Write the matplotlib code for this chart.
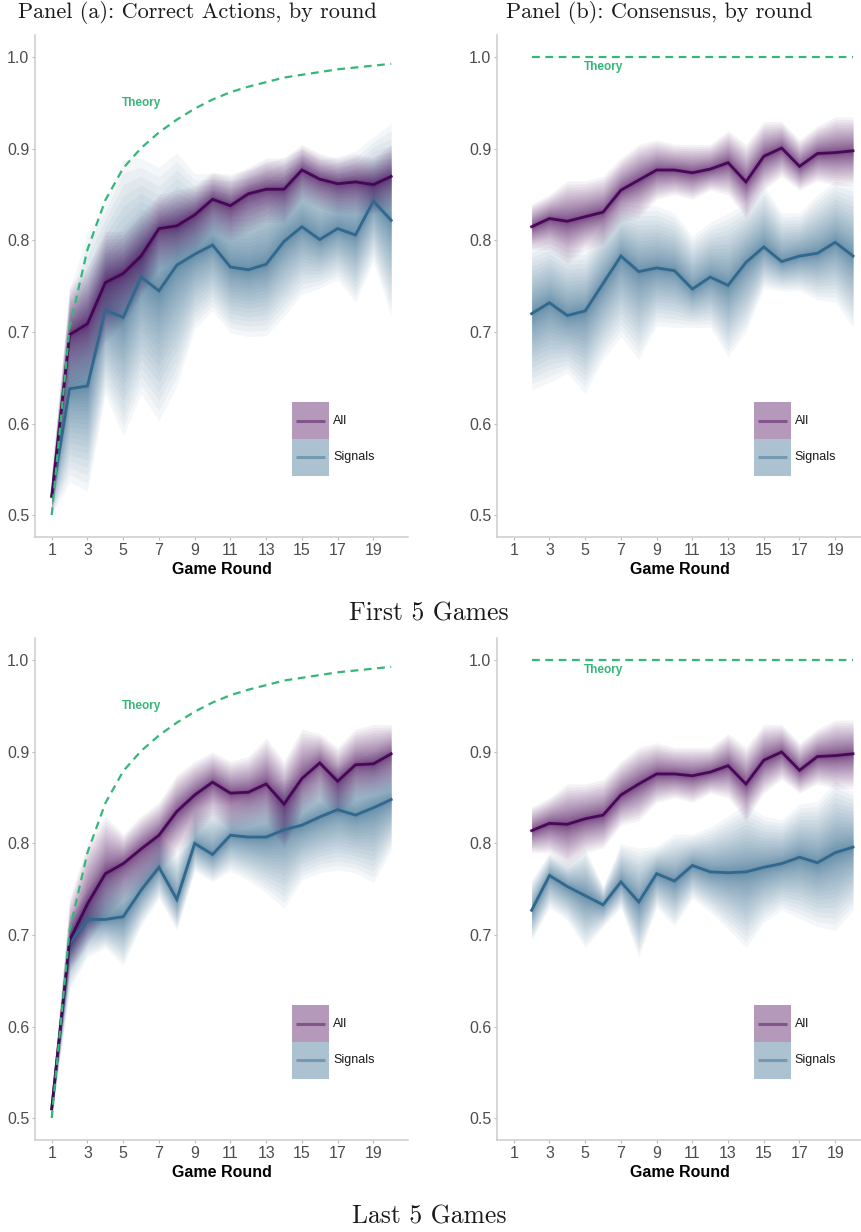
import numpy as np
import matplotlib
matplotlib.use("Agg")
import matplotlib.pyplot as plt
from matplotlib.patches import Rectangle

plt.rcParams['font.family'] = ['Liberation Sans', 'DejaVu Sans']

# rounds shown on the x axis
rounds_a = list(range(1, 21))
rounds_b = list(range(2, 21))
xticks = [1, 3, 5, 7, 9, 11, 13, 15, 17, 19]
yticks = [0.5, 0.6, 0.7, 0.8, 0.9, 1.0]

# theoretical benchmarks
theory_a = [0.5, 0.705, 0.79, 0.844, 0.879, 0.901, 0.918, 0.932, 0.944, 0.954,
            0.962, 0.968, 0.973, 0.978, 0.981, 0.984, 0.987, 0.989, 0.991, 0.993]
theory_b = [1.0] * 19

# --- first 5 games, correct actions ---
first_a_all = [0.521, 0.697, 0.709, 0.754, 0.764, 0.783, 0.813, 0.816, 0.828, 0.845,
               0.838, 0.851, 0.856, 0.856, 0.877, 0.867, 0.862, 0.864, 0.861, 0.870]
first_a_all_lo = [0.50, 0.64, 0.65, 0.69, 0.71, 0.74, 0.77, 0.78, 0.79, 0.81,
                  0.80, 0.81, 0.82, 0.82, 0.845, 0.835, 0.83, 0.83, 0.83, 0.835]
first_a_all_hi = [0.55, 0.75, 0.77, 0.81, 0.81, 0.83, 0.85, 0.855, 0.86, 0.875,
                  0.87, 0.88, 0.89, 0.89, 0.905, 0.895, 0.89, 0.895, 0.89, 0.905]
first_a_sig = [0.52, 0.638, 0.641, 0.724, 0.716, 0.760, 0.745, 0.773, 0.785, 0.795,
               0.771, 0.768, 0.774, 0.799, 0.815, 0.801, 0.813, 0.806, 0.843, 0.822]
first_a_sig_lo = [0.50, 0.536, 0.526, 0.632, 0.586, 0.632, 0.603, 0.641, 0.703, 0.723,
                  0.699, 0.695, 0.696, 0.717, 0.741, 0.748, 0.757, 0.733, 0.777, 0.717]
first_a_sig_hi = [0.54, 0.746, 0.808, 0.841, 0.888, 0.89, 0.88, 0.896, 0.873, 0.873,
                  0.873, 0.877, 0.884, 0.891, 0.90, 0.888, 0.891, 0.898, 0.913, 0.928]

# --- first 5 games, consensus ---
first_b_all = [0.815, 0.824, 0.821, 0.826, 0.831, 0.855, 0.866, 0.877, 0.877, 0.874,
               0.878, 0.885, 0.864, 0.892, 0.901, 0.881, 0.895, 0.896, 0.898]
first_b_all_lo = [0.79, 0.79, 0.775, 0.79, 0.795, 0.82, 0.825, 0.845, 0.85, 0.845,
                  0.855, 0.85, 0.825, 0.855, 0.87, 0.855, 0.865, 0.86, 0.86]
first_b_all_hi = [0.84, 0.85, 0.865, 0.865, 0.87, 0.89, 0.905, 0.91, 0.905, 0.905,
                  0.905, 0.92, 0.905, 0.93, 0.93, 0.91, 0.925, 0.935, 0.935]
first_b_sig = [0.720, 0.732, 0.718, 0.723, 0.753, 0.783, 0.766, 0.770, 0.767, 0.747,
               0.760, 0.751, 0.776, 0.793, 0.777, 0.783, 0.786, 0.798, 0.783]
first_b_sig_lo = [0.637, 0.645, 0.655, 0.633, 0.67, 0.695, 0.67, 0.707, 0.705, 0.705,
                  0.705, 0.673, 0.70, 0.748, 0.745, 0.745, 0.735, 0.733, 0.705]
first_b_sig_hi = [0.793, 0.80, 0.79, 0.79, 0.82, 0.84, 0.838, 0.838, 0.83, 0.805,
                  0.82, 0.83, 0.84, 0.86, 0.83, 0.83, 0.85, 0.865, 0.86]

# --- last 5 games, correct actions ---
last_a_all = [0.51, 0.694, 0.734, 0.767, 0.778, 0.794, 0.809, 0.835, 0.853, 0.867,
              0.855, 0.856, 0.865, 0.843, 0.871, 0.888, 0.868, 0.886, 0.887, 0.898]
last_a_all_lo = [0.50, 0.66, 0.69, 0.72, 0.74, 0.75, 0.77, 0.79, 0.81, 0.83,
                 0.815, 0.82, 0.825, 0.795, 0.835, 0.85, 0.83, 0.85, 0.855, 0.86]
last_a_all_hi = [0.53, 0.74, 0.80, 0.83, 0.81, 0.83, 0.845, 0.875, 0.89, 0.90,
                 0.89, 0.895, 0.915, 0.89, 0.925, 0.92, 0.905, 0.925, 0.93, 0.93]
last_a_sig = [0.51, 0.691, 0.717, 0.717, 0.72, 0.749, 0.774, 0.739, 0.80, 0.788,
              0.809, 0.807, 0.807, 0.815, 0.82, 0.829, 0.837, 0.831, 0.839, 0.848]
last_a_sig_lo = [0.50, 0.64, 0.676, 0.686, 0.667, 0.71, 0.74, 0.705, 0.77, 0.758,
                 0.77, 0.76, 0.746, 0.729, 0.76, 0.768, 0.771, 0.768, 0.757, 0.793]
last_a_sig_hi = [0.53, 0.72, 0.75, 0.78, 0.78, 0.79, 0.81, 0.79, 0.835, 0.84,
                 0.84, 0.85, 0.86, 0.87, 0.87, 0.88, 0.885, 0.89, 0.90, 0.90]

# --- last 5 games, consensus ---
last_b_all = [0.814, 0.822, 0.821, 0.827, 0.831, 0.853, 0.865, 0.876, 0.876, 0.874,
              0.878, 0.885, 0.865, 0.891, 0.900, 0.880, 0.895, 0.896, 0.898]
last_b_all_lo = [0.79, 0.79, 0.775, 0.79, 0.795, 0.82, 0.825, 0.845, 0.85, 0.845,
                 0.855, 0.85, 0.825, 0.855, 0.87, 0.855, 0.865, 0.86, 0.86]
last_b_all_hi = [0.84, 0.85, 0.865, 0.865, 0.87, 0.89, 0.905, 0.91, 0.905, 0.905,
                 0.905, 0.92, 0.905, 0.93, 0.93, 0.91, 0.925, 0.935, 0.935]
last_b_sig = [0.727, 0.765, 0.753, 0.743, 0.733, 0.758, 0.736, 0.767, 0.759, 0.776,
              0.769, 0.768, 0.769, 0.774, 0.778, 0.785, 0.779, 0.79, 0.796]
last_b_sig_lo = [0.694, 0.73, 0.716, 0.686, 0.709, 0.73, 0.676, 0.73, 0.71, 0.74,
                 0.725, 0.706, 0.686, 0.714, 0.727, 0.718, 0.709, 0.705, 0.727]
last_b_sig_hi = [0.76, 0.79, 0.78, 0.795, 0.753, 0.80, 0.795, 0.797, 0.81, 0.81,
                 0.818, 0.83, 0.843, 0.83, 0.826, 0.843, 0.846, 0.868, 0.857]

C_ALL = '#440154'
C_SIG = '#31688e'
C_THEORY = '#35b779'
W, H = 862, 1232


def px_axes(fig, left, top, right, bottom):
    return fig.add_axes([left / W, 1 - bottom / H, (right - left) / W, (bottom - top) / H])


def fan(ax, x, mid, lo, hi, color, n=26, alpha=0.05):
    # stacked ribbons, thin ones near the mean so the middle stays darkest
    mid, lo, hi = np.asarray(mid), np.asarray(lo), np.asarray(hi)
    for k in range(1, n + 1):
        f = (k / n) ** 2.1
        ax.fill_between(x, mid - f * (mid - lo), mid + f * (hi - mid),
                        color=color, alpha=alpha, lw=0)


def legend_box(ax):
    x0, x1 = 14.45, 16.52
    ys = [(0.583, 0.623, C_ALL, 'All'), (0.543, 0.583, C_SIG, 'Signals')]
    for y0, y1, c, lab in ys:
        ax.add_patch(Rectangle((x0, y0), x1 - x0, y1 - y0, facecolor=c, alpha=0.4,
                               lw=0, zorder=5))
        ym = (y0 + y1) / 2
        ax.plot([x0 + 0.22, x1 - 0.22], [ym, ym], color=c, alpha=0.45, lw=2.2,
                solid_capstyle='butt', zorder=6)
        ax.text(x1 + 0.22, ym, lab, fontsize=9, color='#1a1a1a', va='center',
                ha='left', zorder=6)


def draw_panel(ax, x, theory, all_, all_lo, all_hi, sig, sig_lo, sig_hi,
               xmax, theory_xy):
    fan(ax, x, sig, sig_lo, sig_hi, C_SIG)
    fan(ax, x, all_, all_lo, all_hi, C_ALL)
    ax.plot(x, sig, color=C_SIG, lw=2.0, solid_joinstyle='miter')
    ax.plot(x, all_, color=C_ALL, lw=2.0, alpha=0.9, solid_joinstyle='miter')
    ax.plot(x, theory, color=C_THEORY, lw=1.6, dashes=(3.5, 2.5))
    ax.text(theory_xy[0], theory_xy[1], 'Theory', color=C_THEORY, fontsize=8.5,
            fontweight='bold', ha='center', va='center')
    legend_box(ax)

    ax.set_xlim(0.065, xmax)
    ax.set_ylim(0.476, 1.0245)
    ax.set_xticks(xticks)
    ax.set_yticks(yticks)
    ax.set_yticklabels(['0.5', '0.6', '0.7', '0.8', '0.9', '1.0'])
    for s in ['top', 'right']:
        ax.spines[s].set_visible(False)
    for s in ['left', 'bottom']:
        ax.spines[s].set_color('#cccccc')
        ax.spines[s].set_linewidth(1.1)
    ax.tick_params(colors='#4d4d4d', labelsize=11.5, length=2.5, width=0.8, pad=1.5)
    ax.tick_params(axis='both', color='#bbbbbb')
    ax.set_xlabel('Game Round', fontsize=11.5, fontweight='bold', labelpad=3)


fig = plt.figure(figsize=(W / 100, H / 100), dpi=100)

ax1 = px_axes(fig, 35, 35, 408, 537)
draw_panel(ax1, rounds_a, theory_a, first_a_all, first_a_all_lo, first_a_all_hi,
           first_a_sig, first_a_sig_lo, first_a_sig_hi, 20.94, (6.0, 0.950))
ax2 = px_axes(fig, 497, 35, 862, 537)
draw_panel(ax2, rounds_b, theory_b, first_b_all, first_b_all_lo, first_b_all_hi,
           first_b_sig, first_b_sig_lo, first_b_sig_hi, 20.5, (6.0, 0.989))
ax3 = px_axes(fig, 35, 638, 408, 1140)
draw_panel(ax3, rounds_a, theory_a, last_a_all, last_a_all_lo, last_a_all_hi,
           last_a_sig, last_a_sig_lo, last_a_sig_hi, 20.94, (6.0, 0.950))
ax4 = px_axes(fig, 497, 638, 862, 1140)
draw_panel(ax4, rounds_b, theory_b, last_b_all, last_b_all_lo, last_b_all_hi,
           last_b_sig, last_b_sig_lo, last_b_sig_hi, 20.5, (6.0, 0.990))

title = dict(family='cmr10', fontsize=16, color='#1a1a1a', ha='center', va='center')
fig.text(197.5 / W, 1 - 13 / H, 'Panel (a): Correct Actions, by round', **title)
fig.text(659.5 / W, 1 - 13 / H, 'Panel (b): Consensus, by round', **title)
caption = dict(family='cmr10', fontsize=18.5, color='#1a1a1a', ha='center', va='center')
fig.text(429 / W, 1 - 614 / H, 'First 5 Games', **caption)
fig.text(429.5 / W, 1 - 1217 / H, 'Last 5 Games', **caption)

fig.savefig('out.png', dpi=100)
